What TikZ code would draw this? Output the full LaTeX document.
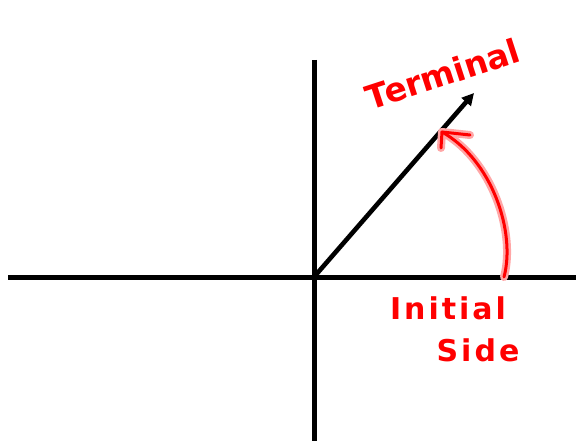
\documentclass[tikz,border=0pt]{standalone}
\usepackage{fontspec}
\newfontfamily\hand[LetterSpace=10]{DejaVu Sans}
\newfontfamily\handtight{DejaVu Sans}
\usetikzlibrary{arrows.meta}
\tikzset{
  axis/.style={line width=5pt},
  ray/.style={line width=4.6pt,-{Triangle[length=12pt,width=12pt]}},
  glow/.style={red!35,line width=8pt,line cap=round,line join=round},
  ink/.style={red,line width=3pt,line cap=round,line join=round},
  label/.style={text=red,font=\hand\bfseries\fontsize{30}{32}\selectfont,inner sep=0pt},
  tlabel/.style={text=red,font=\handtight\bfseries\fontsize{33}{35}\selectfont,inner sep=0pt}
}
\begin{document}
\begin{tikzpicture}[x=1pt,y=-1pt]
\useasboundingbox (0,0) rectangle (576,441);
\coordinate (xl) at (8,277);
\coordinate (xr) at (576,277);
\coordinate (yt) at (314,60);
\coordinate (yb) at (314,441);
\coordinate (o) at (314,277);
\coordinate (tip) at (474,93);
\draw[axis] (xl) -- (xr);
\draw[axis] (yt) -- (yb);
\draw[ray] (o) -- (tip);
% curved arrow
\coordinate (cs) at (504,277);
\coordinate (ce) at (442,132);
\coordinate (h1) at (470,135);
\coordinate (h2) at (441,148);
\foreach \s in {glow,ink}{
  \draw[\s] (cs) .. controls (516,232) and (492,160) .. (ce);
  \draw[\s] (h1) -- (ce) -- (h2);
}
\node[tlabel,rotate=18] (term) at (443,74) {Terminal};
\node[label] (init) at (448,308) {Initial};
\node[label] (side) at (478,350) {Side};
\end{tikzpicture}
\end{document}
